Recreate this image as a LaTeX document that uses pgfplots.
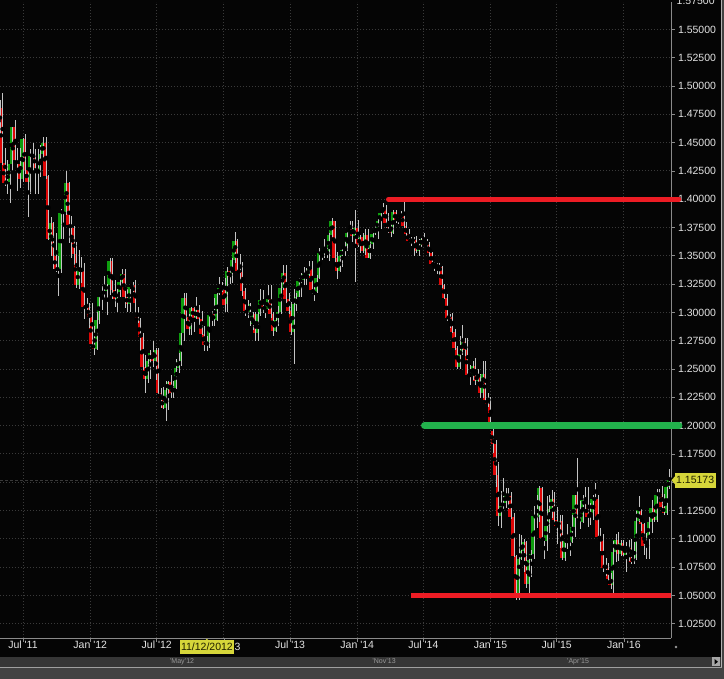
\documentclass[border=0pt]{standalone}
\usepackage{pgfplots}
\pgfplotsset{compat=1.18}
\usepackage{pgfplotstable}
\usepackage{fontspec}
\setmainfont{Liberation Sans}

\definecolor{bg}{HTML}{050505}
\definecolor{upc}{HTML}{0E9E0E}
\definecolor{dnc}{HTML}{DE0606}
\definecolor{wickc}{HTML}{C4C4C4}
\definecolor{lvred}{HTML}{ED1C24}
\definecolor{lvgreen}{HTML}{22B14C}
\definecolor{gridc}{HTML}{3A3A3A}
\definecolor{axc}{HTML}{8A8A8A}
\definecolor{labc}{HTML}{E4E4E4}
\definecolor{tagc}{HTML}{D6D63A}
\definecolor{tagt}{HTML}{202000}
\definecolor{stripc}{HTML}{363636}
\definecolor{botc}{HTML}{424242}

% weekly EUR/USD candles, week of 25 Apr 2011 to week of 2 May 2016
\pgfplotstableread{
o h l c
1.4575 1.4880 1.4560 1.4807
1.4807 1.4940 1.4300 1.4320
1.4320 1.4450 1.4120 1.4140
1.4140 1.4345 1.4050 1.4155
1.4155 1.4250 1.3968 1.4315
1.4315 1.4640 1.4260 1.4640
1.4640 1.4700 1.4330 1.4345
1.4345 1.4450 1.4070 1.4310
1.4310 1.4450 1.4100 1.4180
1.4180 1.4545 1.4150 1.4530
1.4530 1.4575 1.4220 1.4260
1.4260 1.4280 1.3840 1.4150
1.4150 1.4440 1.4050 1.4380
1.4380 1.4500 1.4260 1.4395
1.4395 1.4445 1.4050 1.4275
1.4275 1.4440 1.4050 1.4240
1.4240 1.4480 1.4200 1.4395
1.4395 1.4550 1.4350 1.4500
1.4500 1.4550 1.4180 1.4205
1.4205 1.4210 1.3640 1.3650
1.3650 1.3840 1.3500 1.3790
1.3790 1.3800 1.3385 1.3500
1.3500 1.3700 1.3360 1.3385
1.3385 1.3500 1.3145 1.3380
1.3380 1.3910 1.3350 1.3880
1.3880 1.3900 1.3650 1.3890
1.3890 1.4245 1.3860 1.4145
1.4145 1.4150 1.3610 1.3775
1.3775 1.3850 1.3485 1.3750
1.3750 1.3760 1.3420 1.3520
1.3520 1.3620 1.3215 1.3240
1.3240 1.3550 1.3210 1.3385
1.3385 1.3490 1.3260 1.3370
1.3370 1.3440 1.2945 1.3045
1.3045 1.3125 1.2990 1.3050
1.3050 1.3080 1.2860 1.2960
1.2960 1.3080 1.2710 1.2720
1.2720 1.2880 1.2625 1.2680
1.2680 1.3005 1.2670 1.2930
1.2930 1.3165 1.2900 1.3140
1.3140 1.3235 1.3025 1.3160
1.3160 1.3325 1.3130 1.3190
1.3190 1.3250 1.2975 1.3245
1.3245 1.3485 1.3150 1.3450
1.3450 1.3485 1.3120 1.3195
1.3195 1.3290 1.3050 1.3120
1.3120 1.3210 1.3000 1.3180
1.3180 1.3295 1.3140 1.3270
1.3270 1.3385 1.3250 1.3340
1.3340 1.3385 1.3035 1.3140
1.3140 1.3210 1.3005 1.3075
1.3075 1.3210 1.3000 1.3225
1.3225 1.3265 1.3150 1.3240
1.3240 1.3285 1.3000 1.3080
1.2960 1.3050 1.2910 1.2920
1.2920 1.2950 1.2640 1.2780
1.2780 1.2820 1.2495 1.2515
1.2515 1.2625 1.2290 1.2415
1.2415 1.2625 1.2380 1.2570
1.2570 1.2670 1.2410 1.2640
1.2640 1.2745 1.2515 1.2570
1.2570 1.2690 1.2405 1.2665
1.2665 1.2690 1.2280 1.2290
1.2290 1.2330 1.2160 1.2240
1.2240 1.2345 1.2145 1.2155
1.2155 1.2390 1.2040 1.2315
1.2315 1.2390 1.2135 1.2385
1.2385 1.2445 1.2240 1.2290
1.2290 1.2390 1.2240 1.2330
1.2330 1.2590 1.2320 1.2510
1.2510 1.2640 1.2465 1.2575
1.2575 1.2820 1.2525 1.2815
1.2815 1.3170 1.2750 1.3125
1.3125 1.3170 1.2905 1.2960
1.2960 1.2990 1.2800 1.2855
1.2855 1.3045 1.2800 1.3040
1.3040 1.3045 1.2825 1.2950
1.2950 1.3140 1.2940 1.3025
1.3025 1.3070 1.2880 1.2940
1.2940 1.3010 1.2800 1.2810
1.2810 1.2880 1.2660 1.2715
1.2715 1.2790 1.2660 1.2740
1.2740 1.2990 1.2690 1.2975
1.2975 1.3010 1.2880 1.2985
1.2985 1.3125 1.2880 1.2930
1.2930 1.3175 1.2925 1.3160
1.3160 1.3310 1.3150 1.3215
1.3215 1.3265 1.3180 1.3200
1.3200 1.3300 1.3000 1.3070
1.3070 1.3405 1.3000 1.3365
1.3365 1.3405 1.3255 1.3315
1.3315 1.3480 1.3260 1.3460
1.3460 1.3710 1.3440 1.3635
1.3635 1.3645 1.3355 1.3365
1.3365 1.3520 1.3290 1.3360
1.3360 1.3445 1.3145 1.3190
1.3190 1.3215 1.2965 1.3010
1.3010 1.3110 1.2955 1.3005
1.3005 1.3085 1.2880 1.3075
1.2895 1.3000 1.2845 1.2990
1.2990 1.3000 1.2750 1.2820
1.2820 1.3000 1.2745 1.2990
1.2990 1.3205 1.2970 1.3110
1.3110 1.3200 1.2995 1.3050
1.3050 1.3075 1.2950 1.3030
1.3030 1.3245 1.3020 1.3115
1.3115 1.3240 1.2955 1.2985
1.2985 1.3000 1.2795 1.2835
1.2835 1.2985 1.2825 1.2935
1.2935 1.3060 1.2880 1.3005
1.3005 1.3305 1.2990 1.3220
1.3220 1.3415 1.3200 1.3345
1.3345 1.3420 1.3080 1.3120
1.3120 1.3175 1.2985 1.3010
1.3010 1.3090 1.2805 1.2830
1.2830 1.3205 1.2540 1.3070
1.3070 1.3175 1.3010 1.3140
1.3140 1.3300 1.3135 1.3280
1.3280 1.3345 1.3135 1.3285
1.3285 1.3400 1.3240 1.3340
1.3340 1.3390 1.3240 1.3330
1.3330 1.3450 1.3325 1.3380
1.3380 1.3450 1.3160 1.3195
1.3195 1.3240 1.3105 1.3180
1.3180 1.3330 1.3170 1.3300
1.3300 1.3570 1.3295 1.3525
1.3525 1.3545 1.3460 1.3520
1.3520 1.3645 1.3480 1.3555
1.3555 1.3570 1.3480 1.3545
1.3545 1.3705 1.3450 1.3680
1.3680 1.3830 1.3670 1.3805
1.3805 1.3810 1.3445 1.3485
1.3485 1.3530 1.3295 1.3365
1.3365 1.3500 1.3360 1.3495
1.3495 1.3560 1.3400 1.3555
1.3555 1.3620 1.3500 1.3590
1.3590 1.3710 1.3545 1.3705
1.3705 1.3810 1.3700 1.3740
1.3740 1.3810 1.3625 1.3675
1.3675 1.3905 1.3270 1.3745
1.3745 1.3815 1.3575 1.3590
1.3590 1.3685 1.3525 1.3670
1.3670 1.3700 1.3525 1.3540
1.3540 1.3740 1.3510 1.3680
1.3680 1.3740 1.3480 1.3485
1.3485 1.3620 1.3475 1.3600
1.3600 1.3715 1.3560 1.3695
1.3695 1.3775 1.3685 1.3740
1.3740 1.3825 1.3645 1.3805
1.3805 1.3915 1.3735 1.3875
1.3875 1.3965 1.3855 1.3915
1.3915 1.3945 1.3750 1.3790
1.3790 1.3875 1.3705 1.3750
1.3750 1.3810 1.3670 1.3700
1.3700 1.3905 1.3690 1.3885
1.3885 1.3905 1.3790 1.3815
1.3815 1.3850 1.3780 1.3830
1.3830 1.3895 1.3815 1.3870
1.3870 1.3995 1.3750 1.3760
1.3760 1.3795 1.3650 1.3695
1.3695 1.3735 1.3615 1.3630
1.3630 1.3670 1.3585 1.3635
1.3635 1.3670 1.3500 1.3640
1.3640 1.3675 1.3525 1.3545
1.3545 1.3645 1.3500 1.3600
1.3600 1.3660 1.3575 1.3645
1.3645 1.3700 1.3590 1.3595
1.3595 1.3650 1.3575 1.3605
1.3605 1.3620 1.3485 1.3525
1.3525 1.3535 1.3420 1.3430
1.3430 1.3445 1.3365 1.3425
1.3425 1.3440 1.3335 1.3410
1.3410 1.3435 1.3330 1.3400
1.3400 1.3410 1.3220 1.3240
1.3240 1.3250 1.3120 1.3130
1.3130 1.3160 1.2920 1.2950
1.2950 1.2990 1.2860 1.2960
1.2960 1.2995 1.2815 1.2830
1.2830 1.2855 1.2670 1.2685
1.2685 1.2700 1.2500 1.2520
1.2520 1.2790 1.2500 1.2630
1.2630 1.2885 1.2620 1.2760
1.2760 1.2770 1.2615 1.2670
1.2670 1.2770 1.2440 1.2450
1.2450 1.2535 1.2360 1.2440
1.2440 1.2575 1.2400 1.2525
1.2525 1.2600 1.2360 1.2390
1.2390 1.2500 1.2380 1.2450
1.2450 1.2460 1.2245 1.2290
1.2290 1.2570 1.2245 1.2460
1.2460 1.2570 1.2220 1.2230
1.2230 1.2290 1.2165 1.2190
1.2190 1.2250 1.1995 1.2000
1.1955 1.1970 1.1755 1.1840
1.1840 1.1870 1.1460 1.1565
1.1565 1.1680 1.1115 1.1205
1.1205 1.1425 1.1100 1.1290
1.1290 1.1535 1.1260 1.1315
1.1315 1.1445 1.1270 1.1390
1.1390 1.1450 1.1260 1.1380
1.1380 1.1410 1.1175 1.1195
1.1195 1.1225 1.0840 1.0845
1.0845 1.0860 1.0460 1.0495
1.0495 1.1045 1.0460 1.0820
1.0820 1.1035 1.0810 1.0890
1.0890 1.1000 1.0710 1.0975
1.0975 1.0985 1.0565 1.0600
1.0600 1.0850 1.0520 1.0810
1.0810 1.0900 1.0660 1.0870
1.0870 1.1290 1.0820 1.1200
1.1200 1.1390 1.1100 1.1195
1.1195 1.1465 1.1150 1.1450
1.1450 1.1455 1.0985 1.1010
1.1010 1.1015 1.0820 1.0985
1.0985 1.1380 1.0890 1.1115
1.1115 1.1385 1.1050 1.1265
1.1265 1.1435 1.1185 1.1350
1.1350 1.1410 1.1130 1.1165
1.1165 1.1280 1.0955 1.1110
1.1110 1.1215 1.0915 1.1160
1.1160 1.1215 1.0810 1.0830
1.0830 1.1000 1.0805 1.0980
1.0980 1.1130 1.0910 1.0985
1.0985 1.0990 1.0845 1.0970
1.0970 1.1215 1.0960 1.1105
1.1105 1.1390 1.1020 1.1385
1.1385 1.1715 1.1160 1.1185
1.1185 1.1330 1.1085 1.1150
1.1150 1.1385 1.1140 1.1340
1.1340 1.1460 1.1240 1.1300
1.1300 1.1460 1.1105 1.1195
1.1195 1.1320 1.1120 1.1210
1.1210 1.1390 1.1170 1.1355
1.1355 1.1495 1.1340 1.1350
1.1350 1.1390 1.1010 1.1015
1.1015 1.1095 1.0895 1.1005
1.1005 1.1045 1.0705 1.0740
1.0740 1.0830 1.0675 1.0770
1.0770 1.0790 1.0615 1.0645
1.0645 1.0695 1.0560 1.0590
1.0590 1.0980 1.0525 1.0885
1.0885 1.1045 1.0795 1.0990
1.0990 1.1060 1.0805 1.0870
1.0870 1.0990 1.0850 1.0965
1.0965 1.0990 1.0850 1.0860
1.0860 1.0970 1.0710 1.0925
1.0925 1.0990 1.0805 1.0915
1.0915 1.0995 1.0775 1.0795
1.0795 1.0970 1.0780 1.0830
1.0830 1.1245 1.0810 1.1155
1.1155 1.1375 1.1150 1.1255
1.1255 1.1265 1.1065 1.1130
1.1130 1.1140 1.0860 1.0935
1.0935 1.1055 1.0825 1.1005
1.1005 1.1215 1.0820 1.1150
1.1150 1.1340 1.1055 1.1270
1.1270 1.1280 1.1145 1.1165
1.1165 1.1440 1.1145 1.1390
1.1390 1.1440 1.1325 1.1400
1.1400 1.1465 1.1235 1.1285
1.1285 1.1400 1.1215 1.1225
1.1225 1.1460 1.1215 1.1455
1.1455 1.1616 1.1440 1.1517
}\candles

\begin{document}
\begin{tikzpicture}[x=1pt,y=1pt]
% window frame
\fill[bg] (0,0) rectangle (724,679);
\fill[botc] (0,0) rectangle (724,11);
\fill[gray!75] (0,11) rectangle (724,12.2);
\fill[stripc] (0,12.2) rectangle (721,22);
\fill[gray!70] (712,13) rectangle (720,21.5);
\fill[black] (714.5,14.5) -- (718,17.2) -- (714.5,20) -- cycle;
\draw[gray!60, line width=0.8pt] (721,12) -- (721,679);
\fill[botc] (721.5,0) rectangle (724,679);
\node[text=gray!80, font=\fontsize{7}{8}\selectfont] at (182,17.5) {'May'12};
\node[text=gray!80, font=\fontsize{7}{8}\selectfont] at (384,17.5) {'Nov'13};
\node[text=gray!80, font=\fontsize{7}{8}\selectfont] at (578,17.5) {'Apr'15};
\fill[gray!80] (676,32) circle (1.3pt);

\begin{axis}[
    at={(0,36)}, anchor=south west,
    scale only axis, width=671pt, height=636pt,
    xmin=-9.43, xmax=253, ymin=1.0122, ymax=1.5740,
    clip=false,
    axis x line*=bottom, axis y line*=right,
    axis line style={draw=axc, line width=0.9pt},
    tick align=outside, major tick length=3.5pt,
    tick style={draw=axc, line width=0.7pt},
    xtick={-0.43,25.86,51.86,78.14,104,130.29,156.14,182.43,208.29,234.57},
    xticklabels={Jul \textquotesingle 11, Jan \textquotesingle 12, Jul \textquotesingle 12, {}, Jul \textquotesingle 13, Jan \textquotesingle 14, Jul \textquotesingle 14, Jan \textquotesingle 15, Jul \textquotesingle 15, Jan \textquotesingle 16},
    ytick={1.025,1.05,1.075,1.1,1.125,1.175,1.2,1.225,1.25,1.275,1.3,1.325,1.35,1.375,1.4,1.425,1.45,1.475,1.5,1.525,1.55},
    extra y ticks={1.15}, extra y tick labels={},
    yticklabel={\pgfmathprintnumber[fixed,fixed zerofill,precision=5,assume math mode=true]{\tick}},
    tick label style={font=\fontsize{10.5}{12}\selectfont, text=labc},
    xticklabel style={yshift=4pt},
    grid=major,
    major grid style={draw=gridc, dash pattern=on 1pt off 2pt, line width=0.9pt},
]
% current price line
\addplot[draw=gray!45!black, dash pattern=on 3pt off 2pt, line width=0.7pt]
    coordinates {(-9.43,1.15173) (253,1.15173)};
% rising bodies
\addplot[solid, only marks, mark=none,
    restrict expr to domain={\thisrow{c}-\thisrow{o}}{0:1},
    error bars/.cd, y dir=both, y explicit, error mark=none,
    error bar style={solid, draw=upc, line width=2.9pt}]
    table[x expr=\coordindex-10, y expr={(\thisrow{o}+\thisrow{c})/2},
          y error expr={max(abs(\thisrow{c}-\thisrow{o})/2,0.0005)}] {\candles};
% falling bodies
\addplot[solid, only marks, mark=none,
    restrict expr to domain={\thisrow{c}-\thisrow{o}}{-1:-0.00001},
    error bars/.cd, y dir=both, y explicit, error mark=none,
    error bar style={solid, draw=dnc, line width=2.9pt}]
    table[x expr=\coordindex-10, y expr={(\thisrow{o}+\thisrow{c})/2},
          y error expr={max(abs(\thisrow{c}-\thisrow{o})/2,0.0005)}] {\candles};
% wicks, drawn at the right edge of each body
\addplot[solid, only marks, mark=none,
    error bars/.cd, y dir=both, y explicit, error mark=none,
    error bar style={solid, draw=wickc, line width=0.9pt}]
    table[x expr=\coordindex-10+0.58, y expr={(\thisrow{h}+\thisrow{l})/2},
          y error expr={(\thisrow{h}-\thisrow{l})/2}] {\candles};
% support / resistance levels
\addplot[solid, lvred, line width=5pt, line cap=round] coordinates {(142.5,1.40) (256.1,1.40)};
\addplot[solid, lvgreen, line width=7pt, line cap=round] coordinates {(156.6,1.20) (256.1,1.20)};
\addplot[solid, lvred, line width=5pt] coordinates {(151.3,1.05) (253,1.05)};
\coordinate (ptag) at (axis cs:253,1.15173);
\coordinate (dtag) at (axis cs:71.5,1.0122);
\coordinate (toplab) at (axis cs:253,1.575);
\end{axis}

% partly hidden top label
\node[text=labc, anchor=west, inner xsep=0pt, font=\fontsize{10.5}{12}\selectfont] at ([xshift=5.5pt]toplab) {1.57500};
% price tag
\fill[tagc] ([xshift=0.5pt]ptag) -- ([xshift=4pt,yshift=4pt]ptag) -- ([xshift=4pt,yshift=-4pt]ptag) -- cycle;
\node[fill=tagc, text=tagt, anchor=west, inner xsep=1.5pt, minimum height=15pt,
      font=\fontsize{10.5}{12}\selectfont] at ([xshift=3.5pt]ptag) {1.15173};
% date tag, with the end of the hidden Jan '13 label beside it
\fill[tagc] ([yshift=-0.5pt]dtag) -- ([xshift=-3pt,yshift=-3.5pt]dtag) -- ([xshift=3pt,yshift=-3.5pt]dtag) -- cycle;
\node[fill=tagc, text=tagt, anchor=north, inner xsep=1.5pt, inner ysep=1.5pt, minimum height=14pt,
      font=\fontsize{10.5}{12}\selectfont] (dt) at ([yshift=-1.5pt]dtag) {11/12/2012};
\node[text=labc, anchor=west, inner xsep=0pt, font=\fontsize{10.5}{12}\selectfont] at (dt.east) {3};

\pgfresetboundingbox
\path[use as bounding box] (0,0) rectangle (724,679);
\end{tikzpicture}
\end{document}
